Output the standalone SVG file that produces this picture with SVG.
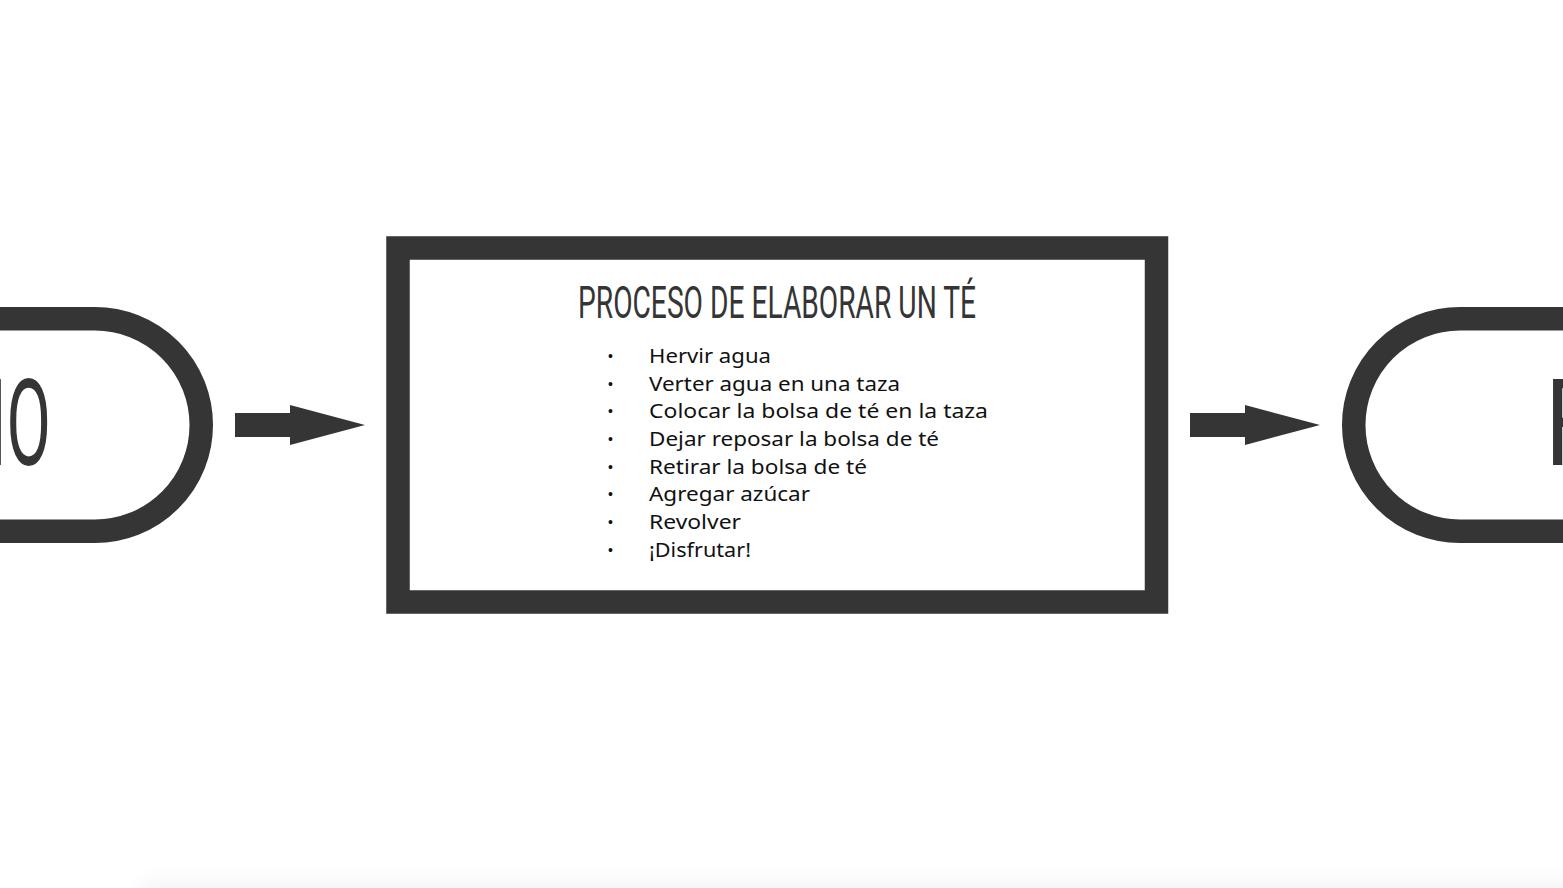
<svg xmlns="http://www.w3.org/2000/svg" width="1563" height="888" viewBox="0 0 1563 888">
<defs>
<style>
.shape{fill:none;stroke:#353535;stroke-width:23.5}
.arrow{fill:#353535}
.term{font-family:Roboto,"Liberation Sans",sans-serif;font-size:120px;fill:#353535}
.title{font-family:Roboto,"Liberation Sans",sans-serif;font-size:45px;fill:#353535}
.item{font-family:"Noto Sans","Liberation Sans",sans-serif;font-size:20px;fill:#111}
.bullet{font-family:"Liberation Sans",sans-serif;font-size:14px;fill:#111}
</style>
<filter id="blur" x="-10%" y="-200%" width="120%" height="500%"><feGaussianBlur stdDeviation="12"/></filter>
</defs>
<rect width="1563" height="888" fill="#fff"/>
<rect x="140" y="885" width="1500" height="30" fill="#000" opacity="0.06" filter="url(#blur)"/>
<g id="inicio">
<rect class="shape" x="-300" y="318.75" width="501.25" height="212.5" rx="106.25"/>
<text class="term" x="51" y="465" text-anchor="end" textLength="185" lengthAdjust="spacingAndGlyphs">INICIO</text>
</g>
<g id="proceso">
<rect class="shape" x="398" y="248" width="758.5" height="354"/>
<text class="title" x="578" y="318" textLength="398" lengthAdjust="spacingAndGlyphs">PROCESO DE ELABORAR UN TÉ</text>
<g class="bullet">
<text x="608" y="361">•</text>
<text x="608" y="388.5">•</text>
<text x="608" y="416">•</text>
<text x="608" y="444">•</text>
<text x="608" y="471.5">•</text>
<text x="608" y="499">•</text>
<text x="608" y="527">•</text>
<text x="608" y="554.5">•</text>
</g>
<text class="item" x="649" y="363" textLength="122" lengthAdjust="spacingAndGlyphs">Hervir agua</text>
<text class="item" x="649" y="390.5" textLength="251" lengthAdjust="spacingAndGlyphs">Verter agua en una taza</text>
<text class="item" x="649" y="418" textLength="339" lengthAdjust="spacingAndGlyphs">Colocar la bolsa de té en la taza</text>
<text class="item" x="649" y="446" textLength="290" lengthAdjust="spacingAndGlyphs">Dejar reposar la bolsa de té</text>
<text class="item" x="649" y="473.5" textLength="218" lengthAdjust="spacingAndGlyphs">Retirar la bolsa de té</text>
<text class="item" x="649" y="501" textLength="161" lengthAdjust="spacingAndGlyphs">Agregar azúcar</text>
<text class="item" x="649" y="529" textLength="92" lengthAdjust="spacingAndGlyphs">Revolver</text>
<text class="item" x="649" y="556.5" textLength="102" lengthAdjust="spacingAndGlyphs">¡Disfrutar!</text>
</g>
<g id="fin">
<rect class="shape" x="1353.75" y="318.75" width="600" height="212.5" rx="106.25"/>
<text class="term" x="1545" y="465" textLength="150" lengthAdjust="spacingAndGlyphs">FIN</text>
</g>
<g id="connectors">
<polygon class="arrow" points="235,413 290,413 290,405 365,425 290,445 290,437 235,437"/>
<polygon class="arrow" points="1190,413 1245,413 1245,405 1320,425 1245,445 1245,437 1190,437"/>
</g>
</svg>
